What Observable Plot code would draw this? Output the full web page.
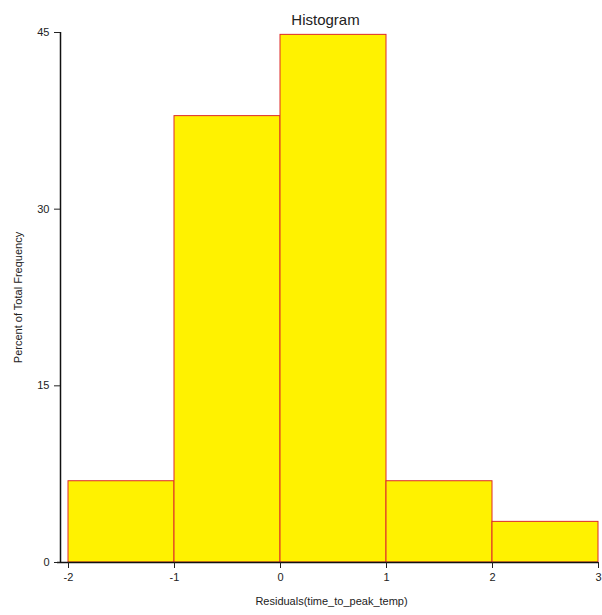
<!DOCTYPE html>
<html>
<head>
<meta charset="utf-8">
<script src="https://cdn.jsdelivr.net/npm/d3@7"></script>
<script src="https://cdn.jsdelivr.net/npm/@observablehq/plot@0.6"></script>
<style>
  html, body { margin: 0; padding: 0; background: #fff; }
  #chart svg { display: block; font-family: "Liberation Sans", Arial, sans-serif; }
</style>
</head>
<body>
<div id="chart"></div>
<script>
// Residual bins (lower and upper edges) and percent of total frequency per bin
const binStart = [-2, -1, 0, 1, 2];
const binEnd = [-1, 0, 1, 2, 3];
const percent = [6.9, 37.9, 44.8, 6.9, 3.45];
const yTicks = [0, 15, 30, 45];
const xTicks = [-2, -1, 0, 1, 2, 3];

const bins = binStart.map((s, i) => ({x1: s, x2: binEnd[i], y: percent[i]}));
const plain = (d) => String(d);

const chart = Plot.plot({
  width: 602,
  height: 615,
  marginLeft: 68,
  marginRight: 4,
  marginTop: 32,
  marginBottom: 53,
  style: {fontFamily: "'Liberation Sans', Arial, sans-serif", fontSize: "11px", color: "#222"},
  x: {domain: [-2, 3]},
  y: {domain: [0, 45]},
  marks: [
    Plot.rectY(bins, {x1: "x1", x2: "x2", y: "y", fill: "#fff200", stroke: "#dd2a2a", strokeWidth: 1}),
    // axis lines
    Plot.ruleX([-2], {dx: -8, stroke: "#111", strokeWidth: 1.5}),
    Plot.ruleY([0], {insetLeft: -11, stroke: "#111", strokeWidth: 1.5}),
    Plot.axisY({ticks: yTicks, tickFormat: plain, dx: -8, tickSize: 6, tickPadding: 5, label: null, fontSize: 11}),
    Plot.axisX({ticks: xTicks, tickFormat: plain, tickSize: 6, tickPadding: 5, label: null, fontSize: 11}),
    // titles
    Plot.text(["Histogram"], {frameAnchor: "top", dy: -18, dx: -8, fontSize: 15, fill: "#222"}),
    Plot.text(["Residuals(time_to_peak_temp)"], {frameAnchor: "bottom", dy: 42, dx: -2, fontSize: 11, fill: "#222"}),
    Plot.text(["Percent of Total Frequency"], {frameAnchor: "left", textAnchor: "middle", dx: -50, rotate: -90, fontSize: 11, fill: "#222"})
  ]
});

document.getElementById("chart").appendChild(chart);
</script>
</body>
</html>
